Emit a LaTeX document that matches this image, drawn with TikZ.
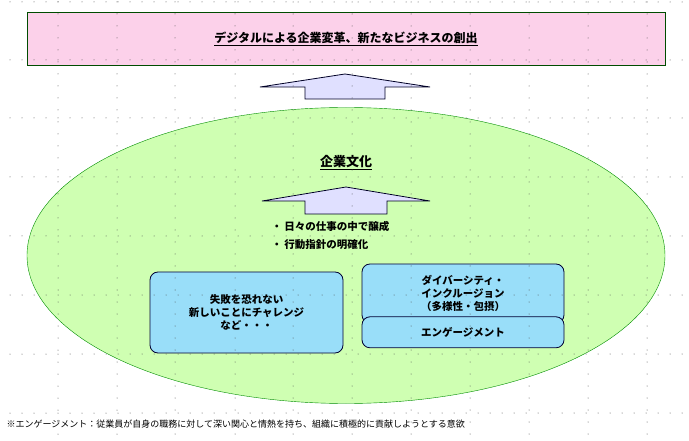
\documentclass[tikz,border=0pt]{standalone}
\usepackage{fontspec}
\setmainfont{Noto Sans CJK JP}
\usetikzlibrary{positioning,shapes.geometric}
\tikzset{%
boxnode/.style={draw=black!80!blue, thick, rounded corners=8pt, fill=cyan!40!white, align=center, font=\bfseries\fontsize{10.5}{13}\selectfont},
uparrow/.style={draw=black!85!blue, fill=blue!12!white, thick},
gridpt/.style={fill=black!70}
}
\newcommand{\ulbf}[1]{\underline{\textbf{#1}}}

\begin{document}
\begin{tikzpicture}[x=1pt,y=-1pt]
	\useasboundingbox (0,0) rectangle (689,441);
	\node[draw=green!30!black, thick, fill=magenta!18!white, minimum width=638, minimum height=53] (goal) at (346,38.5) {};
	\node[font=\bfseries\fontsize{12}{14}\selectfont] (goaltext) at (goal) {\ulbf{デジタルによる企業変革、新たなビジネスの創出}};
	\draw[uparrow] (260,87) -- (345,74) -- (430,87) -- (385,87) -- (385,99) -- (305,99) -- (305,87) -- cycle;
	\node[draw=green!55!black, fill=green!50!lime!30!white, ellipse, minimum width=638, minimum height=296, inner sep=0] (culture) at (346,255.5) {};
	\node[font=\bfseries\fontsize{13}{15}\selectfont] (ctitle) at (346,163) {\ulbf{企業文化}};
	\draw[uparrow] (262,201) -- (346,187) -- (430,201) -- (387,201) -- (387,214) -- (305,214) -- (305,201) -- cycle;
	\node[anchor=west, font=\bfseries\fontsize{10.5}{18}\selectfont, align=left] (points) at (268,235) {・ 日々の仕事の中で醸成\\・ 行動指針の明確化};
	\node[boxnode, minimum width=193, minimum height=81] (challenge) at (246.5,312.5) {失敗を恐れない\\新しいことにチャレンジ\\など・・・};
	\node[boxnode, minimum width=202, minimum height=59] (diversity) at (463,293.5) {ダイバーシティ・\\インクルージョン\\（多様性・包摂）};
	\node[boxnode, minimum width=202, minimum height=31, below=7 of diversity] (engage) {エンゲージメント};
	\node[anchor=west, font=\fontsize{9}{11}\selectfont] (note) at (3,424) {※エンゲージメント：従業員が自身の職務に対して深い関心と情熱を持ち、組織に積極的に貢献しようとする意欲};
	% grid
	\foreach \gy in {2,60,118,177,236,295,354,413} {
		\foreach \gx in {0,12,...,672} {\fill[gridpt] (\gx+10,\gy) circle (0.5);}
	}
	\foreach \gx in {58,117,175,235,293,352,411,470,529,588,647} {
		\foreach \gy in {0,12,...,432} {\fill[gridpt] (\gx,\gy+2) circle (0.5);}
	}
\end{tikzpicture}
\end{document}
